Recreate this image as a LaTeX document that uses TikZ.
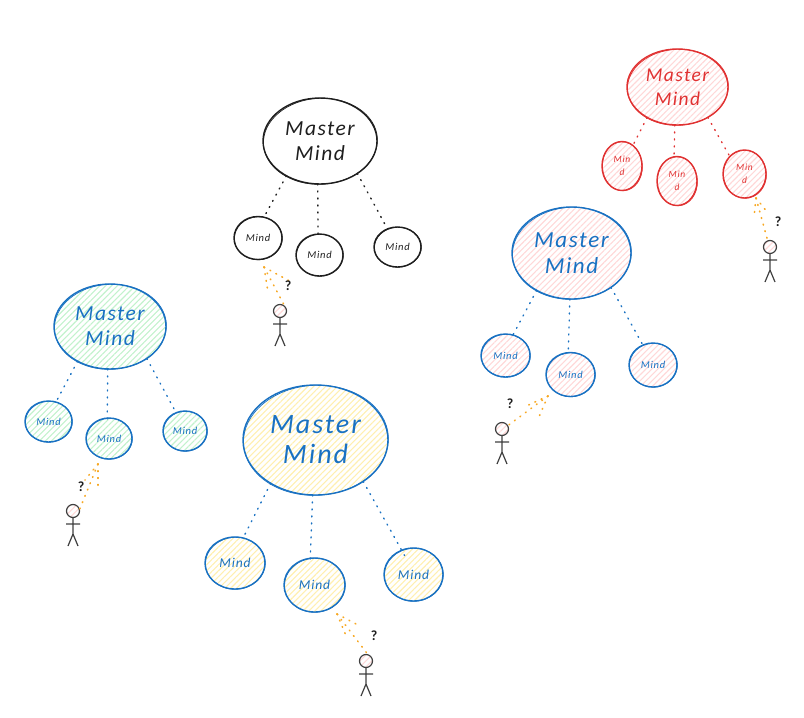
\documentclass[tikz,border=0pt]{standalone}
\usepackage{fontspec}
\setmainfont{Carlito}[LetterSpace=7]
\usetikzlibrary{patterns.meta,shapes.geometric}
\definecolor{inkblack}{HTML}{1E1E1E}
\definecolor{inkblue}{HTML}{1971C2}
\definecolor{inkred}{HTML}{E03131}
\definecolor{inkorange}{HTML}{F7A823}
\definecolor{hatchred}{HTML}{FFD8D8}
\definecolor{hatchgreen}{HTML}{C2F2CC}
\definecolor{hatchyellow}{HTML}{FFEFB0}
\tikzset{
  mm/.style={shape=ellipse, inner sep=0pt, outer sep=0pt, draw, line width=1.4pt, align=center},
  hatched/.style={pattern={Lines[angle=45,distance=4.2pt,line width=1.1pt]}, pattern color=#1},
  link/.style={line width=1.4pt, line cap=round, dash pattern=on 1pt off 6pt},
  look/.style={inkorange, line width=1.6pt, line cap=round, dash pattern=on 0.8pt off 6pt},
  stick/.style={draw=inkblack!85, line width=1.2pt},
  askmark/.style={inner sep=0pt, font=\bfseries\fontsize{14}{14}\selectfont, text=inkblack}
}
% name, x, y, rx, ry, node options (colour, hatch), font size, line spacing, text
\newcommand{\blob}[9]{%
  \node[mm, minimum width=#4*2pt, minimum height=#5*2pt, #6, font=\itshape\fontsize{#7}{#8}\selectfont] (#1) at (#2,#3) {#9};
  \draw[hatched/.style={}, #6, line width=.7pt, rotate around={3:(#2,#3)}] (#2+.4,#3+.3) ellipse [x radius=#4, y radius=#5];
}
\newcommand{\stickman}[3]{%
  \node[circle, stick, hatched=hatchred, minimum size=13pt, inner sep=0pt, outer sep=0pt] (#1head) at (#2,#3) {};
  \coordinate (#1hip) at (#2,#3+23);
  \coordinate (#1handl) at (#2-7,#3+13);
  \coordinate (#1handr) at (#2+7,#3+13);
  \coordinate (#1footl) at (#2-5,#3+35);
  \coordinate (#1footr) at (#2+5,#3+35);
  \draw[stick] (#1head) -- (#1hip) (#1handl) -- (#1handr) (#1footl) -- (#1hip) -- (#1footr);
}
\begin{document}
\begin{tikzpicture}[x=1pt,y=-1pt]
\useasboundingbox (0,0) rectangle (804,718);

% ---------- black cluster
\blob{bm}{320}{141}{57}{43}{draw=inkblack,text=inkblack}{21.5}{25}{Master\\Mind}
\blob{ba}{258}{238}{24}{21.5}{draw=inkblack,text=inkblack}{10.5}{11}{Mind}
\blob{bb}{319.5}{255}{23.5}{21}{draw=inkblack,text=inkblack}{10.5}{11}{Mind}
\blob{bc}{397.5}{247}{23.5}{20}{draw=inkblack,text=inkblack}{10.5}{11}{Mind}
\draw[link,inkblack] (bm.226) -- (ba.74);
\draw[link,inkblack] (bm.267) -- (bb.94);
\draw[link,inkblack] (bm.319) -- (bc.119);
\stickman{bp}{280}{311}
\coordinate (bapex) at (264,267);
\coordinate (bla) at (268,292);
\coordinate (blc) at (293,283);
\draw[look] (bapex) -- (bla);
\draw[look] (bapex) -- (bphead.35);
\draw[look] (bapex) -- (blc);
\node[askmark] (bq) at (288,286) {?};

% ---------- red cluster
\blob{rm}{677.5}{87}{50.5}{38}{draw=inkred,text=inkred,hatched=hatchred}{19.5}{24}{Master\\Mind}
\blob{ra}{622}{166}{20}{24.5}{draw=inkred,text=inkred,hatched=hatchred}{9.5}{13}{Min\\d}
\blob{rb}{677}{181}{20}{24.5}{draw=inkred,text=inkred,hatched=hatchred}{9.5}{13}{Min\\d}
\blob{rc}{744.5}{174}{21.5}{24}{draw=inkred,text=inkred,hatched=hatchred}{9.5}{13}{Min\\d}
\draw[link,inkred] (rm.225) -- (ra.62);
\draw[link,inkred] (rm.266) -- (rb.97);
\draw[link,inkred] (rm.315) -- (rc.130);
\stickman{rp}{770}{247}
\coordinate (rapex) at (756,198);
\coordinate (rla) at (754,217);
\coordinate (rlc) at (768,213);
\draw[look] (rapex) -- (rla);
\draw[look] (rapex) -- (rlc);
\draw[look] (rapex) -- (rphead.110);
\node[askmark] (rq) at (778,222) {?};

% ---------- pink cluster
\blob{pm}{571.5}{253}{59.5}{46}{draw=inkblue,text=inkblue,hatched=hatchred}{23}{26}{Master\\Mind}
\blob{pa}{505.5}{355.5}{24.5}{21.5}{draw=inkblue,text=inkblue,hatched=hatchred}{10.5}{11}{Mind}
\blob{pb}{570.5}{374.5}{24.5}{22}{draw=inkblue,text=inkblue,hatched=hatchred}{10.5}{11}{Mind}
\blob{pc}{653}{365}{24}{22}{draw=inkblue,text=inkblue,hatched=hatchred}{10.5}{11}{Mind}
\draw[link,inkblue] (pm.227) -- (pa.70);
\draw[link,inkblue] (pm.268) -- (pb.96);
\draw[link,inkblue] (pm.319) -- (pc.117);
\stickman{pp}{502}{429}
\coordinate (papex) at (548,396);
\coordinate (pla) at (524,407);
\coordinate (plb) at (538,419);
\draw[look] (papex) -- (pla);
\draw[look] (papex) -- (plb);
\draw[look] (papex) -- (pphead.30);
\node[askmark] (pq) at (510,404) {?};

% ---------- green cluster
\blob{gm}{110}{326.5}{56}{42.5}{draw=inkblue,text=inkblue,hatched=hatchgreen}{21.5}{25}{Master\\Mind}
\blob{ga}{48.5}{421.5}{23.5}{20.5}{draw=inkblue,text=inkblue,hatched=hatchgreen}{10.5}{11}{Mind}
\blob{gb}{109}{438.5}{23}{20.5}{draw=inkblue,text=inkblue,hatched=hatchgreen}{10.5}{11}{Mind}
\blob{gc}{185}{431}{22}{20}{draw=inkblue,text=inkblue,hatched=hatchgreen}{10.5}{11}{Mind}
\draw[link,inkblue] (gm.227) -- (ga.69);
\draw[link,inkblue,shorten >=-4pt] (gm.267) -- (gb.95);
\draw[link,inkblue] (gm.319) -- (gc.116);
\stickman{gp}{73}{511}
\coordinate (gapex) at (98,464);
\coordinate (gla) at (85,480);
\coordinate (glb) at (98,489);
\draw[look] (gapex) -- (gla);
\draw[look] (gapex) -- (glb);
\draw[look] (gapex) -- (gphead.10);
\node[askmark] (gq) at (81,487) {?};

% ---------- yellow cluster
\blob{ym}{315.5}{440}{72.5}{55}{draw=inkblue,text=inkblue,hatched=hatchyellow}{28}{30}{Master\\Mind}
\blob{ya}{235}{563}{30}{26}{draw=inkblue,text=inkblue,hatched=hatchyellow}{13.5}{14}{Mind}
\blob{yb}{314.5}{585}{30.5}{27}{draw=inkblue,text=inkblue,hatched=hatchyellow}{13.5}{14}{Mind}
\blob{yc}{413.5}{574.5}{29.5}{26.5}{draw=inkblue,text=inkblue,hatched=hatchyellow}{13.5}{14}{Mind}
\draw[link,inkblue] (ym.224) -- (ya.72);
\draw[link,inkblue,shorten >=-4pt] (ym.267) -- (yb.99);
\draw[link,inkblue,shorten >=-6pt] (ym.319) -- (yc.116);
\stickman{yp}{366}{661}
\coordinate (yapex) at (337,614);
\coordinate (yla) at (347,638);
\coordinate (ylc) at (360,626);
\draw[look] (yapex) -- (yla);
\draw[look] (yapex) -- (ylc);
\draw[look] (yapex) -- (yphead.70);
\node[askmark] (yq) at (374,636) {?};
\end{tikzpicture}
\end{document}
